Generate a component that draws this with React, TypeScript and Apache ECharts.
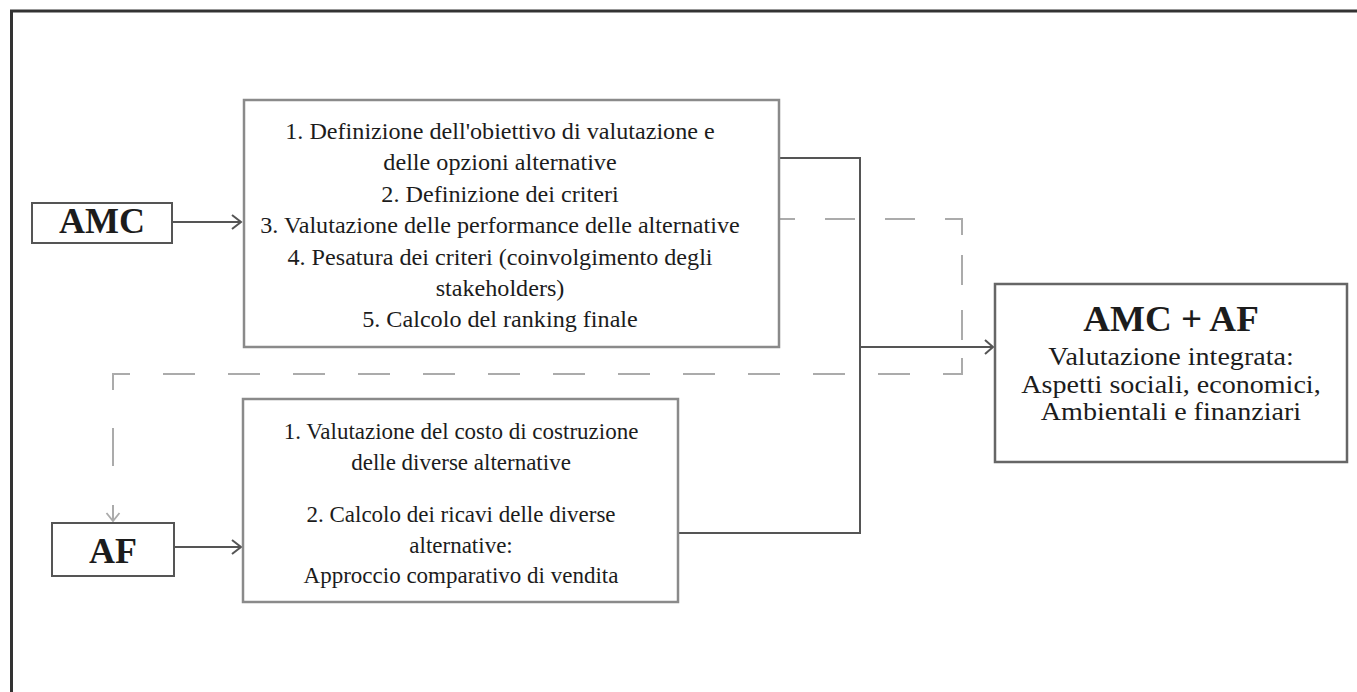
import React, { useEffect, useRef } from "react";
import * as echarts from "echarts";

// ---- Text content ----
const amcLabel = "AMC";
const afLabel = "AF";
const amcSteps = [
  "1. Definizione dell'obiettivo di valutazione e",
  "delle opzioni alternative",
  "2. Definizione dei criteri",
  "3. Valutazione delle performance delle alternative",
  "4. Pesatura dei criteri (coinvolgimento degli",
  "stakeholders)",
  "5. Calcolo del ranking finale",
];
const afSteps = [
  "1. Valutazione del costo di costruzione",
  "delle diverse alternative",
  "2. Calcolo dei ricavi delle diverse",
  "alternative:",
  "Approccio comparativo di vendita",
];
const resultTitle = "AMC + AF";
const resultLines = [
  "Valutazione integrata:",
  "Aspetti sociali, economici,",
  "Ambientali e finanziari",
];

// ---- Layout (pixels) ----
const amcStepY = [131, 162.5, 194, 225.5, 257, 288, 319.5];
const afStepY = [431, 462, 514, 545, 575];
const resultLineY = [356, 384, 411];

const SERIF = "Liberation Serif";
const TEXT = "#1c1c1c";
const SOLID = "#555";
const DASH = "#ababab";

function txt(text: string, x: number, y: number, size: number, bold = false, scaleX = 1) {
  return {
    type: "text",
    x,
    y,
    scaleX,
    silent: true,
    style: {
      text,
      fontFamily: SERIF,
      fontSize: size,
      fontWeight: bold ? "bold" : "normal",
      fill: TEXT,
      align: "center",
      verticalAlign: "middle",
      textAlign: "center",
      textVerticalAlign: "middle",
    },
  };
}

function box(x: number, y: number, w: number, h: number, stroke: string, lw: number) {
  return {
    type: "rect",
    shape: { x, y, width: w, height: h },
    style: { fill: "#fff", stroke, lineWidth: lw },
  };
}

function poly(points: number[][], stroke: string, lw: number, dash?: number[], offset = 0) {
  return {
    type: "polyline",
    shape: { points },
    style: {
      stroke,
      lineWidth: lw,
      fill: null,
      lineDash: dash || null,
      lineDashOffset: offset,
    },
  };
}

function buildElements() {
  const els: any[] = [];
  // outer frame (only top and left visible)
  els.push(poly([[11.5, 700], [11.5, 11], [1360, 11]], "#333", 3));

  // dashed feedback path (drawn segment by segment so each corner gets a piece)
  els.push(poly([[779, 219], [962, 219]], DASH, 2, [30, 30], 14));
  els.push(poly([[962, 218], [962, 374]], DASH, 2, [17, 20, 30, 25, 30, 18, 17, 20]));
  els.push(poly([[113, 374], [963, 374]], DASH, 2, [32, 33], 15));
  els.push(poly([[113, 373], [113, 521]], DASH, 2, [17, 38, 38, 39, 17, 20]));
  els.push(poly([[106.5, 513], [113, 521], [119.5, 513]], DASH, 1.8));

  // solid connectors
  els.push(poly([[779, 158], [860, 158], [860, 533], [678, 533]], SOLID, 2));
  els.push(poly([[860, 347], [993, 347]], SOLID, 2));
  els.push(poly([[985, 340], [993, 347], [985, 354]], SOLID, 2));

  // AMC -> box arrow
  els.push(poly([[172, 222], [241, 222]], SOLID, 2));
  els.push(poly([[232, 215], [241, 222], [232, 229]], SOLID, 2));
  // AF -> box arrow
  els.push(poly([[174, 547], [241, 547]], SOLID, 2));
  els.push(poly([[232, 540], [241, 547], [232, 554]], SOLID, 2));

  // boxes
  els.push(box(32, 203, 140, 40, "#555", 2));
  els.push(box(52, 523, 122, 53, "#555", 2));
  els.push(box(244, 100, 535, 247, "#8a8a8a", 2.5));
  els.push(box(243, 399, 435, 203, "#8a8a8a", 2.5));
  els.push(box(995, 284, 352, 178, "#666", 2.5));

  // labels
  els.push(txt(amcLabel, 102, 221, 36, true));
  els.push(txt(afLabel, 113, 551, 36, true));

  amcSteps.forEach((s, i) => els.push(txt(s, 500, amcStepY[i], 23, false, 1.05)));
  afSteps.forEach((s, i) => els.push(txt(s, 461, afStepY[i], 23, false, 1.0)));

  els.push(txt(resultTitle, 1171, 319, 36, true, 1.03));
  resultLines.forEach((s, i) => els.push(txt(s, 1171, resultLineY[i], 26, false, 1.08)));

  return els;
}

export default function App() {
  const ref = useRef<HTMLDivElement>(null);
  useEffect(() => {
    if (!ref.current) return;
    const chart = echarts.init(ref.current, null, { renderer: "svg" });
    chart.setOption({
      animation: false,
      backgroundColor: "#fff",
      graphic: { elements: buildElements() },
    });
    return () => chart.dispose();
  }, []);
  return (
    <div
      ref={ref}
      style={{ position: "absolute", left: 0, top: 0, width: 1357, height: 692, background: "#fff" }}
    />
  );
}
